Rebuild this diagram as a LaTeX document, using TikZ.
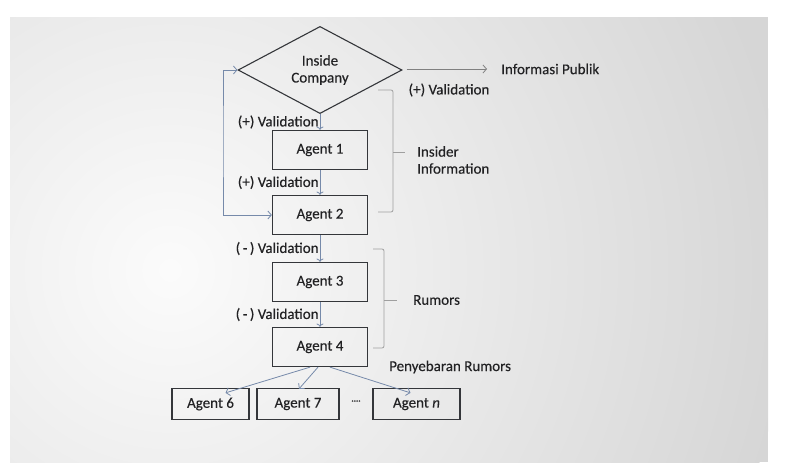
\documentclass[tikz,border=0pt]{standalone}
\usepackage{fontspec}
\setmainfont{Carlito}[FakeBold=0.3]
\usetikzlibrary{shapes.geometric,arrows.meta}
\definecolor{arrowblue}{RGB}{118,138,170}
\definecolor{boxline}{RGB}{52,54,58}
\definecolor{txtgray}{RGB}{34,34,36}
\begin{document}
\begin{tikzpicture}
		[x=1pt,y=-1pt,
		agent/.style={rectangle,draw=boxline,line width=1.3pt,
minimum width=95pt,minimum height=39pt,inner sep=0pt,text=txtgray},
		smallagent/.style={agent,minimum height=31pt},
		decision/.style={diamond,draw=boxline,line width=1.1pt,inner sep=0pt,
minimum width=164pt,minimum height=66pt,align=center,text=txtgray},
		textstyle/.style={text=txtgray,inner sep=1pt},
		bracestyle/.style={gray!75,thick,rounded corners=2pt},
		edgestyle/.style={arrowblue,line width=0.8pt,-{Straight Barb[length=3.5pt,width=8pt]}},
		font=\fontsize{15}{17}\selectfont]
		\useasboundingbox (0,0) rectangle (805,464);
		\begin{scope}
			\clip (10,17) rectangle (768,462);
			\fill[gray!32] (10,17) rectangle (768,462);
			\shade[inner color=white!97!gray,outer color=gray!32] (170,270) circle [radius=620];
		\end{scope}
		\node at (320, 70) (0) [decision] {Inside\\Company};
		\node at (500, 69) (pub) [textstyle,anchor=west] {Informasi Publik};
		\node at (449, 90) (v0) [textstyle] {(+) Validation};
		\draw[edgestyle,gray] (0.east) ++(4,-1) coordinate (p) (p) -- ([xshift=-13pt]pub.west);
		\node at (320, 150) (1) [agent] {Agent 1}
			edge [edgestyle,<-] node[textstyle,left,inner sep=1pt] {(+) Validation} (0);
		\node at (320, 215) (2) [agent] {Agent 2}
			edge [edgestyle,<-] node[textstyle,left,inner sep=1pt] {(+) Validation} (1);
		\node at (320, 282) (3) [agent] {Agent 3}
			edge [edgestyle,<-] node[textstyle,left,inner sep=1pt] {(\,-\,) Validation} (2);
		\node at (320, 347) (4) [agent] {Agent 4}
			edge [edgestyle,<-] node[textstyle,left,inner sep=1pt] {(\,-\,) Validation} (3);
		% loop back to the company
		\draw[edgestyle,{Straight Barb[length=3.5pt,width=8pt]}-{Straight Barb[length=3.5pt,width=8pt]}]
			(0.west) -| (223,140) |- (2.west);
		% spreading
		\node at (210.5, 404) (6) [smallagent,minimum width=77pt] {Agent 6};
		\node at (298, 404) (7) [smallagent,minimum width=82pt] {Agent 7};
		\node at (416.5, 404) (n) [smallagent,minimum width=87pt] {Agent \textit{n}};
		\node at (356, 402) (dots) [textstyle,font=\small] {····};
		\draw[edgestyle] ([xshift=-10pt]4.south) -- ([xshift=15pt,yshift=-5pt]6.north);
		\draw[edgestyle] ([xshift=-2pt]4.south) -- ([xshift=1pt,yshift=-1pt]7.north);
		\draw[edgestyle] ([xshift=10pt]4.south) -- ([xshift=-6pt,yshift=-5pt]n.north);
		\node at (388, 367) (spread) [textstyle,anchor=west] {Penyebaran Rumors};
		% brackets
		\draw[bracestyle] (378,90) -- (393,90) -- (393,212) -- (378,212);
		\draw[bracestyle] (393,152) -- (405,152);
		\node at (416, 160) (insider) [textstyle,anchor=west,align=left] {Insider\\Information};
		\draw[bracestyle] (373,249) -- (384,249) -- (384,348) -- (373,348);
		\draw[bracestyle] (384,300) -- (397,300);
		\node at (412, 300) (rumors) [textstyle,anchor=west] {Rumors};
	\end{tikzpicture}
\end{document}
